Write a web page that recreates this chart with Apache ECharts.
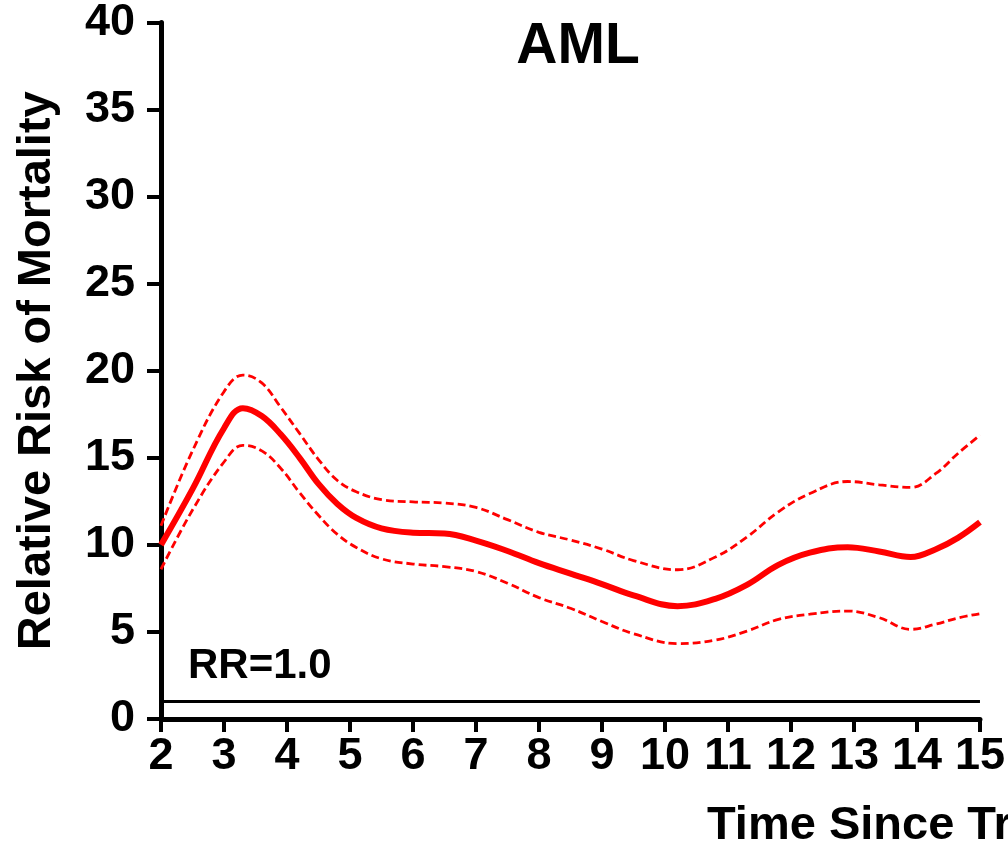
<!DOCTYPE html>
<html>
<head>
<meta charset="utf-8">
<script src="https://cdn.jsdelivr.net/npm/echarts@6/dist/echarts.min.js"></script>
<style>
  html, body { margin: 0; padding: 0; background: #fff; }
  #chart { width: 1008px; height: 846px; }
</style>
</head>
<body>
<div id="chart"></div>
<script>
// years since transplant
const times = [2, 2.5, 3, 3.3, 3.6, 3.9, 4.2, 4.5, 4.8, 5.1, 5.5, 6, 6.5, 7, 7.5, 8, 8.5, 9, 9.5, 10.2, 10.8, 11.3, 11.8, 12.3, 12.9, 13.4, 13.9, 14.3, 14.65, 15]
// relative risk + 95% band
const rr    = [10.0, 13.2, 16.7, 17.85, 17.4, 16.35, 15.0, 13.5, 12.35, 11.55, 10.95, 10.7, 10.65, 10.25, 9.65, 8.95, 8.35, 7.75, 7.1, 6.48, 6.9, 7.7, 8.85, 9.55, 9.87, 9.62, 9.3, 9.75, 10.4, 11.3]
const upper = [11.1, 15.4, 18.8, 19.75, 19.3, 17.9, 16.4, 14.9, 13.7, 13.05, 12.6, 12.47, 12.4, 12.15, 11.45, 10.72, 10.28, 9.76, 9.1, 8.57, 9.3, 10.45, 11.9, 12.95, 13.64, 13.45, 13.3, 14.1, 15.25, 16.3]
const lower = [8.6, 12.0, 14.76, 15.72, 15.4, 14.4, 13.0, 11.7, 10.6, 9.85, 9.2, 8.9, 8.75, 8.47, 7.8, 6.97, 6.36, 5.6, 4.9, 4.33, 4.53, 5.05, 5.72, 6.02, 6.2, 5.82, 5.15, 5.45, 5.8, 6.05]
const rrLine = 1.0

const font = '"Liberation Sans", Arial, sans-serif'
const pairs = (vals) => times.map((t, i) => [t, vals[i]])

var myChart = echarts.init(document.getElementById('chart'))
var option = {
  animation: false,
  title: {
    text: 'AML',
    left: 573,
    top: 14,
    textAlign: 'center',
    textStyle: { fontSize: 57, fontWeight: 'bold', color: '#000', fontFamily: font }
  },
  grid: { left: 161, right: 28, top: 22, bottom: 127 },
  xAxis: {
    type: 'value',
    min: 2,
    max: 15,
    interval: 1,
    splitLine: { show: false },
    axisLine: { onZero: false, lineStyle: { color: '#000', width: 5 } },
    axisTick: { length: 13, lineStyle: { color: '#000', width: 4 } },
    axisLabel: { margin: 15, fontSize: 45, fontWeight: 'bold', color: '#000', fontFamily: font }
  },
  yAxis: {
    type: 'value',
    min: 0,
    max: 40,
    interval: 5,
    name: 'Relative Risk of Mortality',
    nameLocation: 'middle',
    nameGap: 100,
    nameTextStyle: { fontSize: 47, fontWeight: 'bold', color: '#000', fontFamily: font },
    splitLine: { show: false },
    axisLine: { show: true, onZero: false, lineStyle: { color: '#000', width: 5 } },
    axisTick: { show: true, length: 14, lineStyle: { color: '#000', width: 4 } },
    axisLabel: { margin: 26, fontSize: 45, fontWeight: 'bold', color: '#000', fontFamily: font }
  },
  graphic: [
    {
      type: 'text',
      left: 707,
      top: 803,
      style: {
        text: 'Time Since Transplant (years)',
        font: 'bold 47px ' + font,
        fill: '#000'
      }
    }
  ],
  series: [
    {
      name: 'upper',
      type: 'line',
      data: pairs(upper),
      smooth: 0.4,
      showSymbol: false,
      lineStyle: { color: '#ff0000', width: 2.8, type: [8, 4] }
    },
    {
      name: 'lower',
      type: 'line',
      data: pairs(lower),
      smooth: 0.4,
      showSymbol: false,
      lineStyle: { color: '#ff0000', width: 2.8, type: [8, 4] }
    },
    {
      name: 'RR',
      type: 'line',
      data: pairs(rr),
      smooth: 0.4,
      showSymbol: false,
      z: 3,
      lineStyle: { color: '#ff0000', width: 6 },
      markLine: {   // RR = 1 reference line
        silent: true,
        symbol: 'none',
        data: [{ yAxis: rrLine }],
        lineStyle: { color: '#000', width: 3, type: 'solid' },
        label: {
          show: true,
          position: 'insideStartTop',
          distance: [27, 14],
          formatter: 'RR=1.0',
          fontSize: 42,
          fontWeight: 'bold',
          color: '#000',
          fontFamily: font
        }
      }
    }
  ]
}

option && myChart.setOption(option)
</script>
</body>
</html>
